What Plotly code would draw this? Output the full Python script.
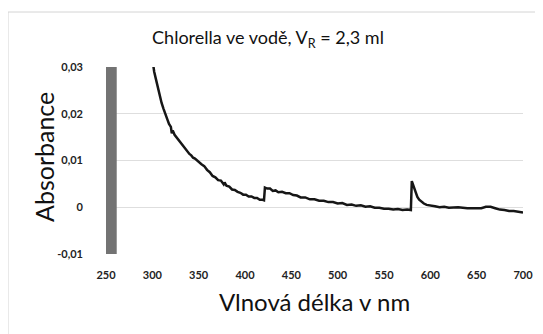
import plotly.graph_objects as go

# Main absorbance spectrum (nm, absorbance)
wavelength = [298, 300, 302, 304, 306, 308, 310, 312, 314, 316, 318, 320, 321, 322, 324, 326, 328,
              330, 332, 334, 336, 338, 340, 342, 344, 346, 348, 350, 353, 356, 359, 362, 365,
              368, 371, 374, 377, 378, 380, 383, 386, 389, 392, 395, 398, 401, 404, 407, 410,
              413, 416, 419, 420.5, 421.5, 424, 427, 430, 433, 436, 440, 444, 448, 452, 456,
              460, 465, 470, 475, 480, 485, 490, 495, 500, 505, 510, 515, 520, 525, 530, 535,
              540, 545, 550, 555, 560, 565, 570, 575, 578, 579, 580, 581, 582.5, 584, 586,
              588, 590, 593, 596, 600, 605, 610, 615, 620, 630, 640, 650, 655, 660, 665,
              670, 675, 680, 685, 690, 695, 700]
absorbance = [0.0345, 0.0315, 0.0290, 0.0273, 0.0254, 0.0239, 0.0223, 0.0211, 0.0198, 0.0189,
              0.0178, 0.0172, 0.0158, 0.0164, 0.0155, 0.0150, 0.0144, 0.0140, 0.0133, 0.0129,
              0.0123, 0.0119, 0.0114, 0.0111, 0.0106, 0.0104, 0.0100, 0.0098, 0.0092, 0.0088,
              0.0080, 0.0075, 0.0067, 0.0064, 0.0058, 0.0057, 0.0049, 0.0053, 0.0046, 0.0044,
              0.0038, 0.0037, 0.0033, 0.0031, 0.0027, 0.0027, 0.0023, 0.0023, 0.0020, 0.0020,
              0.0016, 0.0016, 0.0015, 0.0042, 0.0040, 0.0040, 0.0035, 0.0036, 0.0032, 0.0033,
              0.0030, 0.0030, 0.0026, 0.0025, 0.0021, 0.0021, 0.0017, 0.0017, 0.0014, 0.0014,
              0.0011, 0.0011, 0.0008, 0.0009, 0.0005, 0.0006, 0.0003, 0.0004, 0.0001, 0.0002,
              -0.0001, -0.0001, -0.0003, -0.0003, -0.0005, -0.0004, -0.0006, -0.0005, -0.0007,
              -0.0006, 0.0056, 0.0050, 0.0040, 0.0030, 0.0022, 0.0016, 0.0012, 0.0008, 0.0005,
              0.0003, 0.0002, 0.0000, 0.0001, -0.0001, 0.0000, -0.0002, -0.0002, -0.0002,
              0.0001, 0.0001, -0.0002, -0.0005, -0.0006, -0.0008, -0.0008, -0.0010, -0.0011]

# Saturated noisy region at the short-wavelength end (off-scale values)
noise_wavelength = [250, 250.5, 251, 251.5, 252, 252.5, 253, 253.5, 254, 254.5, 255, 255.5,
                    256, 256.5, 257, 257.5, 258, 258.5, 259, 259.5, 260, 260.5, 261]
noise_absorbance = [1.2, -0.8, 1.1, -0.9, 1.3, -0.7, 1.2, -0.8, 1.1, -0.9, 1.2, -0.8,
                    1.3, -0.7, 1.1, -0.9, 1.2, -0.8, 1.1, -0.9, 1.2, -0.8, 1.1]

x_tickvals = [250, 300, 350, 400, 450, 500, 550, 600, 650, 700]
x_ticktext = ["250", "300", "350", "400", "450", "500", "550", "600", "650", "700"]
y_tickvals = [-0.01, 0, 0.01, 0.02, 0.03]
y_ticktext = ["-0,01", "0", "0,01", "0,02", "0,03"]

fig = go.Figure()
fig.add_trace(go.Scatter(x=noise_wavelength, y=noise_absorbance, mode="lines",
                         line=dict(color="#737373", width=1.6), hoverinfo="skip"))
fig.add_trace(go.Scatter(x=wavelength, y=absorbance, mode="lines",
                         line=dict(color="#161616", width=2.5)))

# page body has an 8px offset; figure coordinates = screen - 8
OFF = 8
W, H = 543 - OFF, 334 - OFF
L, T = 106 - OFF, 67 - OFF
R = W - (523 - OFF)
B = H - (254 - OFF)
pw, ph = W - L - R, H - T - B

fig.add_shape(type="rect", xref="paper", yref="paper",
              x0=(8 - OFF - L) / pw, x1=(560 - OFF - L) / pw,
              y0=(H - B - 345) / ph, y1=(H - B - (12 - OFF)) / ph,
              line=dict(color="#d4d4d4", width=1), fillcolor="rgba(0,0,0,0)", layer="below")

fig.add_annotation(text="Absorbance", xref="paper", yref="paper",
                   x=(44 - OFF - L) / pw, y=(H - B - (157 - OFF)) / ph,
                   xanchor="center", yanchor="middle", textangle=-90, showarrow=False,
                   font=dict(size=25, color="#111"))

fig.update_layout(
    width=W, height=H,
    margin=dict(l=L, r=R, t=T, b=B, autoexpand=False),
    paper_bgcolor="white", plot_bgcolor="white",
    showlegend=False,
    font=dict(family="Lato, 'Open Sans', sans-serif", color="#111"),
    title=dict(text="Chlorella ve vodě, V<sub>R</sub> = 2,3 ml",
               x=(268 - OFF) / W, xanchor="center", y=1 - (38 - OFF) / H, yanchor="middle",
               font=dict(size=18, color="#111")),
    xaxis=dict(range=[250, 700], tickvals=x_tickvals, ticktext=x_ticktext,
               showgrid=False, zeroline=False, showline=False, ticks="",
               ticklabelstandoff=13,
               tickfont=dict(size=11, color="#222", weight="bold"),
               title=dict(text="Vlnová délka v nm", font=dict(size=24, color="#111"), standoff=14)),
    yaxis=dict(range=[-0.01, 0.03], tickvals=y_tickvals, ticktext=y_ticktext,
               showgrid=True, gridcolor="#dedede", gridwidth=1, zeroline=False,
               showline=False, ticks="", ticklabelstandoff=22,
               tickfont=dict(size=11, color="#222", weight="bold")),
)

fig.write_html("out.html")
